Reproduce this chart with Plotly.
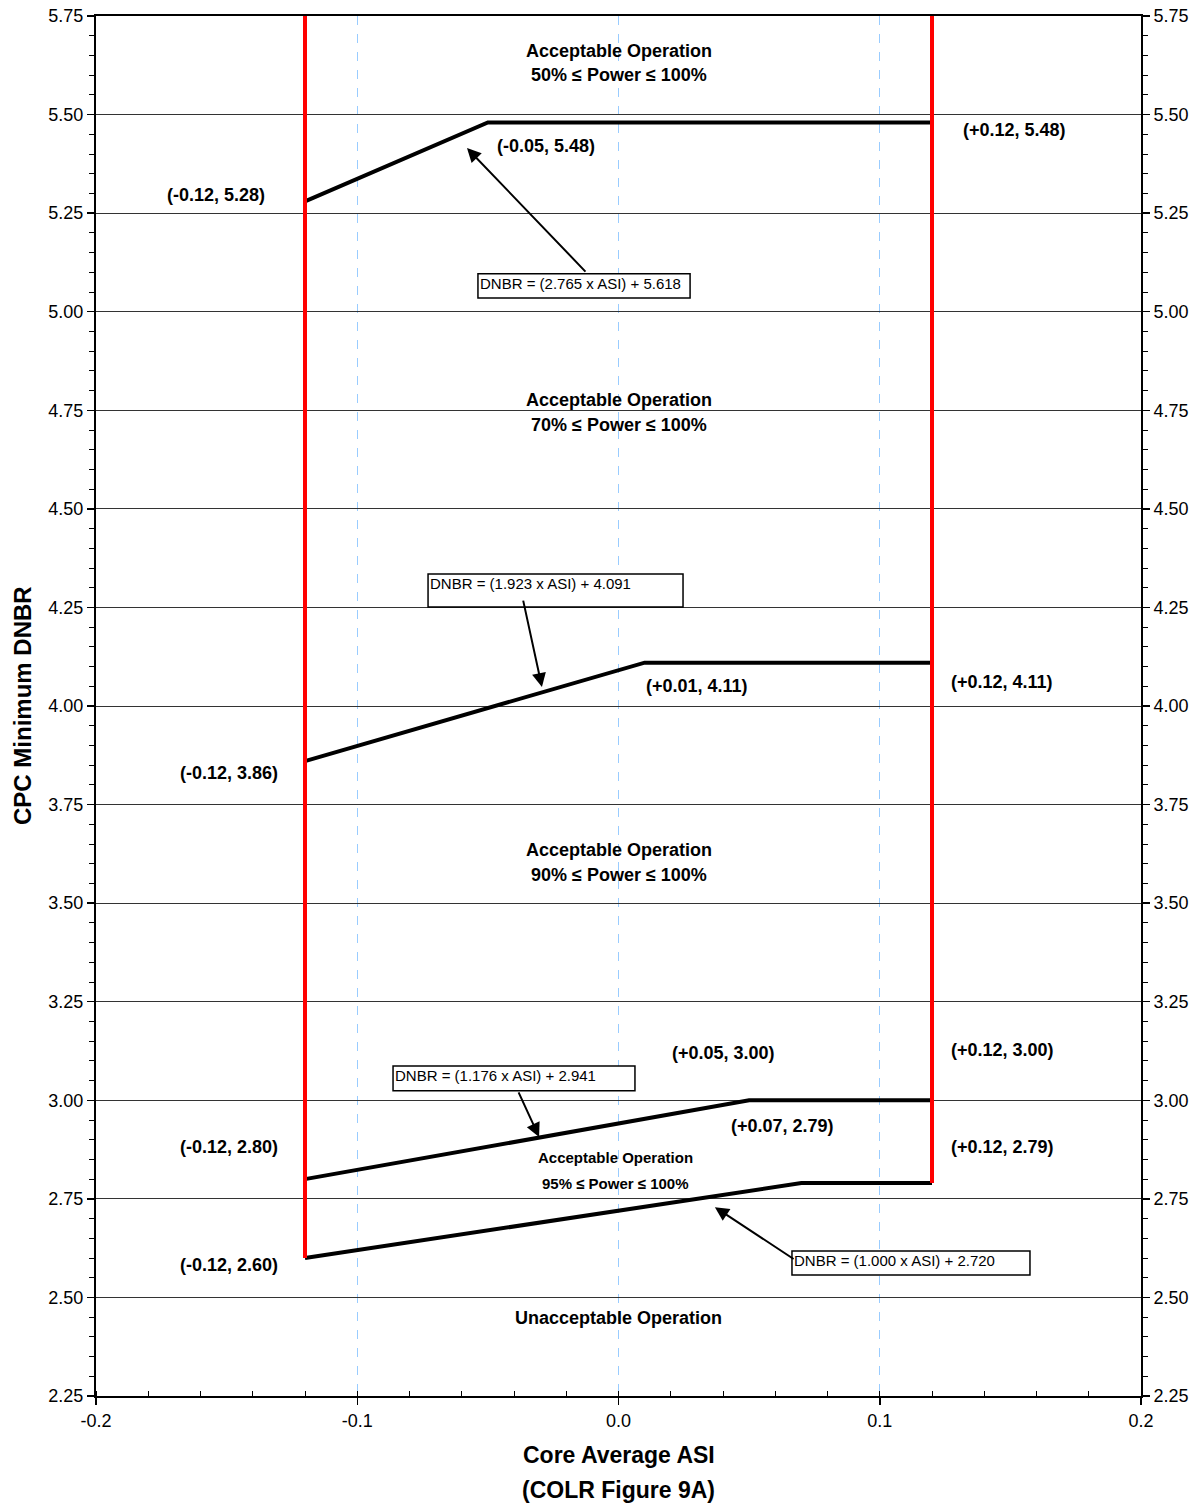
import plotly.graph_objects as go

# ---------------- data ----------------
limit_left_x = [-0.12, -0.12]
limit_left_y = [2.60, 5.75]
limit_right_x = [0.12, 0.12]
limit_right_y = [2.79, 5.75]

line50_x = [-0.12, -0.05, 0.12]
line50_y = [5.28, 5.48, 5.48]
line70_x = [-0.12, 0.01, 0.12]
line70_y = [3.86, 4.11, 4.11]
line90_x = [-0.12, 0.05, 0.12]
line90_y = [2.80, 3.00, 3.00]
line95_x = [-0.12, 0.07, 0.12]
line95_y = [2.60, 2.79, 2.79]

x_tickvals = [-0.2, -0.1, 0.0, 0.1, 0.2]
x_ticktext = ["-0.2", "-0.1", "0.0", "0.1", "0.2"]

# point labels: (text, x, y)
point_labels = [
    ("(-0.12, 5.28)", -0.154, 5.296),
    ("(-0.05, 5.48)", -0.0277, 5.42),
    ("(+0.12, 5.48)", 0.1514, 5.461),
    ("(+0.01, 4.11)", 0.030, 4.051),
    ("(+0.12, 4.11)", 0.1468, 4.061),
    ("(-0.12, 3.86)", -0.149, 3.830),
    ("(+0.05, 3.00)", 0.040, 3.120),
    ("(+0.12, 3.00)", 0.1468, 3.128),
    ("(-0.12, 2.80)", -0.149, 2.882),
    ("(+0.07, 2.79)", 0.0626, 2.935),
    ("(+0.12, 2.79)", 0.1468, 2.882),
    ("(-0.12, 2.60)", -0.149, 2.582),
]

# region labels: (text, x, y, size)
region_labels = [
    ("Acceptable Operation", 0.0, 5.661, 18),
    ("50% ≤ Power ≤ 100%", 0.0, 5.600, 18),
    ("Acceptable Operation", 0.0, 4.776, 18),
    ("70% ≤ Power ≤ 100%", 0.0, 4.713, 18),
    ("Acceptable Operation", 0.0, 3.635, 18),
    ("90% ≤ Power ≤ 100%", 0.0, 3.571, 18),
    ("Acceptable Operation", -0.001, 2.854, 15),
    ("95% ≤ Power ≤ 100%", -0.001, 2.790, 15),
    ("Unacceptable Operation", 0.0, 2.448, 18),
]

# equation boxes: (text, x0, x1, y_top, y_bottom)
eq_boxes = [
    ("DNBR = (2.765 x ASI) + 5.618", -0.0538, 0.0274, 5.096, 5.035),
    ("DNBR = (1.923 x ASI) + 4.091", -0.0729, 0.0247, 4.335, 4.251),
    ("DNBR = (1.176 x ASI) + 2.941", -0.0863, 0.0063, 3.087, 3.024),
    ("DNBR = (1.000 x ASI) + 2.720", 0.0664, 0.1575, 2.618, 2.557),
]

# arrows: (tail_x, tail_y, head_x, head_y)
eq_arrows = [
    (-0.0121, 5.098, -0.058, 5.415),
    (-0.0366, 4.271, -0.0293, 4.048),
    (-0.0385, 3.024, -0.0304, 2.907),
    (0.0676, 2.595, 0.0369, 2.729),
]

FONT = "Liberation Sans, Arial, sans-serif"

fig = go.Figure()

for xs, ys in [(line50_x, line50_y), (line70_x, line70_y),
               (line90_x, line90_y), (line95_x, line95_y)]:
    fig.add_trace(go.Scatter(x=xs, y=ys, mode="lines",
                             line=dict(color="black", width=4),
                             showlegend=False, hoverinfo="skip"))

for xs, ys in [(limit_left_x, limit_left_y), (limit_right_x, limit_right_y)]:
    fig.add_trace(go.Scatter(x=xs, y=ys, mode="lines", yaxis="y2",
                             line=dict(color="#ff0000", width=4),
                             showlegend=False, hoverinfo="skip"))

annotations = []
for txt, x, y in point_labels:
    annotations.append(dict(x=x, y=y, xref="x", yref="y", text="<b>%s</b>" % txt,
                            showarrow=False, xanchor="center", yanchor="middle",
                            font=dict(family=FONT, size=18, color="black")))
for txt, x, y, s in region_labels:
    annotations.append(dict(x=x, y=y, xref="x", yref="y", text="<b>%s</b>" % txt,
                            showarrow=False, xanchor="center", yanchor="middle",
                            font=dict(family=FONT, size=s, color="black")))

shapes = []
for txt, x0, x1, yt, yb in eq_boxes:
    shapes.append(dict(type="rect", xref="x", yref="y", x0=x0, x1=x1, y0=yb, y1=yt,
                       line=dict(color="black", width=1.5), fillcolor="white",
                       layer="above"))
    annotations.append(dict(x=x0, y=yt, xref="x", yref="y", text=txt,
                            showarrow=False, xanchor="left", yanchor="top",
                            xshift=0, yshift=1,
                            font=dict(family=FONT, size=15, color="black")))

for tx, ty, hx, hy in eq_arrows:
    annotations.append(dict(x=hx, y=hy, ax=tx, ay=ty, xref="x", yref="y",
                            axref="x", ayref="y", text="", showarrow=True,
                            arrowhead=2, arrowsize=1.4, arrowwidth=2,
                            arrowcolor="black"))

# axis titles
annotations.append(dict(x=0.5, y=0, xref="paper", yref="paper",
                        text="<b>Core Average ASI</b>", showarrow=False,
                        xanchor="center", yanchor="middle", yshift=-59,
                        font=dict(family=FONT, size=23, color="black")))
annotations.append(dict(x=0.5, y=0, xref="paper", yref="paper",
                        text="<b>(COLR Figure 9A)</b>", showarrow=False,
                        xanchor="center", yanchor="middle", yshift=-94,
                        font=dict(family=FONT, size=23, color="black")))
annotations.append(dict(x=0, y=0.5, xref="paper", yref="paper",
                        text="<b>CPC Minimum DNBR</b>", showarrow=False,
                        textangle=-90, xanchor="center", yanchor="middle",
                        xshift=-74,
                        font=dict(family=FONT, size=24, color="black")))

yaxis_common = dict(
    range=[2.25, 5.75], dtick=0.25, tick0=2.25, tickformat=".2f",
    ticks="outside", ticklen=7, tickwidth=1.5, tickcolor="black",
    showline=True, linecolor="black", linewidth=2,
    tickfont=dict(family=FONT, size=18, color="black"),
    minor=dict(dtick=0.05, ticks="outside", ticklen=5, tickcolor="black",
               tickwidth=1, showgrid=False),
    zeroline=False, fixedrange=True, automargin=False,
)

fig.update_layout(
    template="none",
    width=1204, height=1509,
    margin=dict(l=96, r=63, t=16, b=113, autoexpand=False),
    paper_bgcolor="white", plot_bgcolor="white",
    font=dict(family=FONT, color="black"),
    xaxis=dict(
        range=[-0.2, 0.2], tickvals=x_tickvals, ticktext=x_ticktext,
        ticks="outside", ticklen=7, tickwidth=1.5, tickcolor="black",
        showline=True, linecolor="black", linewidth=2, mirror=True,
        showgrid=True, gridcolor="#99ccff", griddash="dash", gridwidth=1,
        tickfont=dict(family=FONT, size=18, color="black"),
        minor=dict(dtick=0.02, tick0=-0.2, ticks="inside", ticklen=5,
                   tickcolor="black", tickwidth=1, showgrid=False),
        zeroline=False, fixedrange=True, automargin=False,
    ),
    yaxis=dict(**yaxis_common, side="left", showgrid=True,
               gridcolor="#333333", gridwidth=1),
    yaxis2=dict(**yaxis_common, side="right", overlaying="y", showgrid=False),
    annotations=annotations,
    shapes=shapes,
    showlegend=False,
)

# remove the browser's default 8px body margin so the figure fills the window
fig.write_html(
    "out.html",
    config={"displayModeBar": False, "staticPlot": True},
    post_script="document.body.style.margin='0';document.body.style.overflow='hidden';",
)
